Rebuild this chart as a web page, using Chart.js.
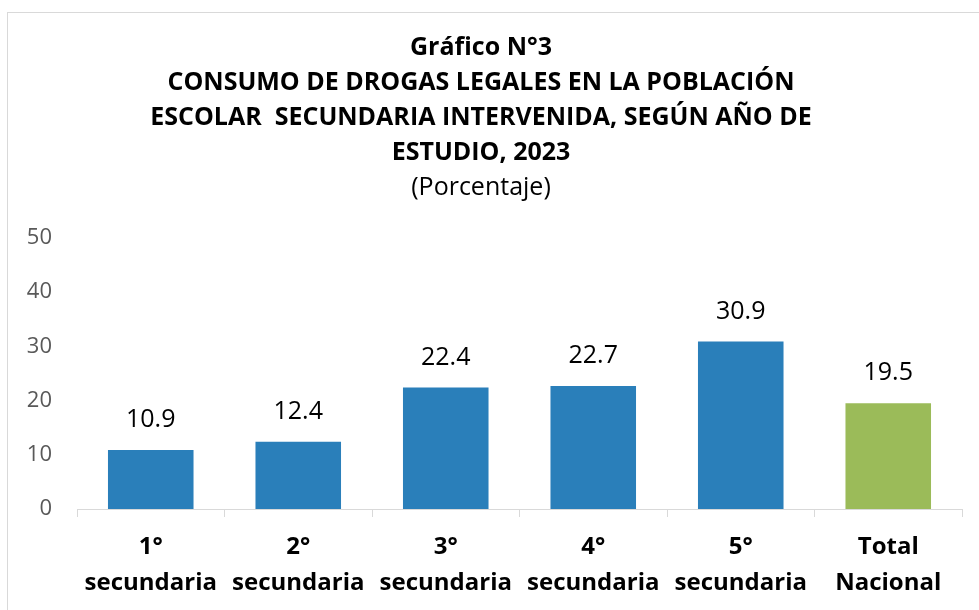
<!DOCTYPE html>
<html>
<head>
<meta charset="utf-8">
<script src="https://cdn.jsdelivr.net/npm/chart.js@4"></script>
<style>
  html, body { margin: 0; padding: 0; background: #fff; }
  #wrap { position: relative; width: 979px; height: 610px; }
</style>
</head>
<body>
<div id="wrap"><canvas id="myChart" width="979" height="610"></canvas></div>
<script>
// data
const categories = [['1°', 'secundaria'], ['2°', 'secundaria'], ['3°', 'secundaria'], ['4°', 'secundaria'], ['5°', 'secundaria'], ['Total', 'Nacional']];
const values = [10.9, 12.4, 22.4, 22.7, 30.9, 19.5];
const barColors = ['#2a7fba', '#2a7fba', '#2a7fba', '#2a7fba', '#2a7fba', '#9bbb59'];
const yTicks = [0, 10, 20, 30, 40, 50];
const titleLines = ['Gráfico N°3', 'CONSUMO DE DROGAS LEGALES EN LA POBLACIÓN', 'ESCOLAR  SECUNDARIA INTERVENIDA, SEGÚN AÑO DE', 'ESTUDIO, 2023'];
const subtitleText = '(Porcentaje)';

const FONT = '"Open Sans", Calibri, sans-serif';

// marco gris alrededor del grafico
const frame = {
  id: 'frame',
  beforeDraw(chart) {
    const c = chart.ctx;
    c.save();
    c.fillStyle = '#fff';
    c.fillRect(0, 0, chart.width, chart.height);
    c.strokeStyle = '#d9d9d9';
    c.lineWidth = 1;
    c.strokeRect(7.5, 12.5, 1100, 800);
    c.restore();
  }
};

// etiquetas de valor encima de cada barra
const valueLabels = {
  id: 'valueLabels',
  afterDatasetsDraw(chart) {
    const c = chart.ctx;
    const meta = chart.getDatasetMeta(0);
    c.save();
    c.font = '25px ' + FONT;
    c.fillStyle = '#000';
    c.textAlign = 'center';
    c.textBaseline = 'middle';
    meta.data.forEach((bar, i) => {
      c.fillText(values[i].toFixed(1), bar.x, bar.y - 30);
    });
    c.restore();
  }
};

const ctx = document.getElementById('myChart').getContext('2d');
new Chart(ctx, {
  type: 'bar',
  data: {
    labels: categories,
    datasets: [{
      data: values,
      backgroundColor: barColors,
      barPercentage: 0.58,
      categoryPercentage: 1.0
    }]
  },
  options: {
    responsive: false,
    animation: false,
    layout: { padding: { left: 0, right: 17, top: 0, bottom: 0 } },
    plugins: {
      legend: { display: false },
      tooltip: { enabled: false },
      title: {
        display: true,
        text: titleLines,
        color: '#000',
        font: { family: FONT, size: 25, weight: 'bold', lineHeight: 1.4 },
        padding: { top: 30, bottom: 0 }
      },
      subtitle: {
        display: true,
        text: subtitleText,
        color: '#000',
        font: { family: FONT, size: 25, weight: 'normal', lineHeight: 1.4 },
        padding: { top: 0, bottom: 33 }
      }
    },
    scales: {
      x: {
        offset: true,
        grid: {
          offset: true,
          drawOnChartArea: false,
          drawTicks: true,
          tickLength: 8,
          color: '#d9d9d9'
        },
        border: { color: '#d9d9d9' },
        ticks: {
          color: '#000',
          padding: 12,
          maxRotation: 0,
          autoSkip: false,
          font: { family: FONT, size: 24, weight: 'bold', lineHeight: 1.5 }
        },
        afterFit(scale) { scale.height = 101; }
      },
      y: {
        min: 0,
        max: 50,
        afterBuildTicks(scale) { scale.ticks = yTicks.map(v => ({ value: v })); },
        grid: { display: false, drawTicks: false },
        border: { display: false },
        ticks: {
          color: '#595959',
          padding: 25,
          font: { family: FONT, size: 22 }
        },
        afterFit(scale) { scale.width = 77; }
      }
    }
  },
  plugins: [frame, valueLabels]
});
</script>
</body>
</html>
